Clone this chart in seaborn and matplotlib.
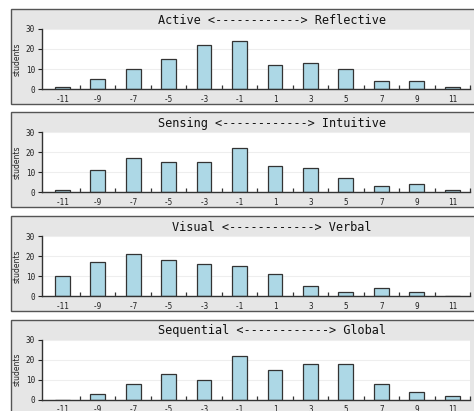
import numpy as np
import pandas as pd
import seaborn as sns
import matplotlib.pyplot as plt
from matplotlib.patches import Rectangle

sns.set_style("white")

# ---------------------------------------------------------
# Data: number of students per score, for each scale
# ---------------------------------------------------------
scores = ["-11", "-9", "-7", "-5", "-3", "-1", "1", "3", "5", "7", "9", "11"]
titles = [
    "Active <------------> Reflective",
    "Sensing <------------> Intuitive",
    "Visual <------------> Verbal",
    "Sequential <------------> Global",
]
active_reflective = [1, 5, 10, 15, 22, 24, 12, 13, 10, 4, 4, 1]
sensing_intuitive = [1, 11, 17, 15, 15, 22, 13, 12, 7, 3, 4, 1]
visual_verbal = [10, 17, 21, 18, 16, 15, 11, 5, 2, 4, 2, 0]
sequential_global = [0, 3, 8, 13, 10, 22, 15, 18, 18, 8, 4, 2]
series = [active_reflective, sensing_intuitive, visual_verbal, sequential_global]

W, H = 474, 411
fig = plt.figure(figsize=(W / 100, H / 100), dpi=100)
fig.patch.set_facecolor("white")

for i, (title, values) in enumerate(zip(titles, series)):
    top = 9 + 103.5 * i

    # gray panel box, behind the axes
    fig.patches.append(Rectangle((11 / W, 1 - (top + 95) / H), 1.0, 95 / H,
                                 transform=fig.transFigure, facecolor="#e6e6e6",
                                 edgecolor="#555555", lw=1.0, zorder=-5))
    fig.text(272 / W, 1 - (top + 11) / H, title, ha="center", va="center",
             family="DejaVu Sans Mono", fontsize=8.6, color="#111111")

    ax = fig.add_axes([42 / W, 1 - (top + 80) / H, 428 / W, 60 / H])
    df = pd.DataFrame({"score": scores, "students": values})
    sns.barplot(data=df, x="score", y="students", order=scores, ax=ax,
                color="#add8e6", edgecolor="#333333", linewidth=0.9,
                width=0.42, saturation=1)

    ax.set_facecolor("white")
    ax.set_xlim(-0.57, 11.5)
    ax.set_ylim(0, 30)
    ax.set_yticks([0, 10, 20, 30])
    ax.set_xticks(range(len(scores)))
    ax.set_xticklabels(scores, family="DejaVu Sans Mono")
    ax.set_xticks(np.arange(0.5, 12, 1), minor=True)
    ax.tick_params(axis="x", which="major", bottom=True, length=0, labelsize=5.5,
                   pad=4, colors="#222222")
    ax.tick_params(axis="x", which="minor", bottom=True, direction="in", length=3,
                   width=0.9, color="#333333")
    ax.tick_params(axis="y", which="major", left=True, direction="out", length=3,
                   width=0.8, labelsize=5.5, pad=2, colors="#222222")
    for lab in ax.get_yticklabels():
        lab.set_family("DejaVu Sans Mono")
    ax.grid(axis="y", color="#eeeeee", lw=0.8)
    ax.set_axisbelow(True)
    for side in ["top", "right"]:
        ax.spines[side].set_visible(False)
    for side in ["left", "bottom"]:
        ax.spines[side].set_color("#333333")
        ax.spines[side].set_linewidth(1.0)
    ax.set_xlabel("")
    ax.set_ylabel("students", fontsize=5.5, labelpad=3, color="#222222")

fig.savefig("out.png", dpi=100)
